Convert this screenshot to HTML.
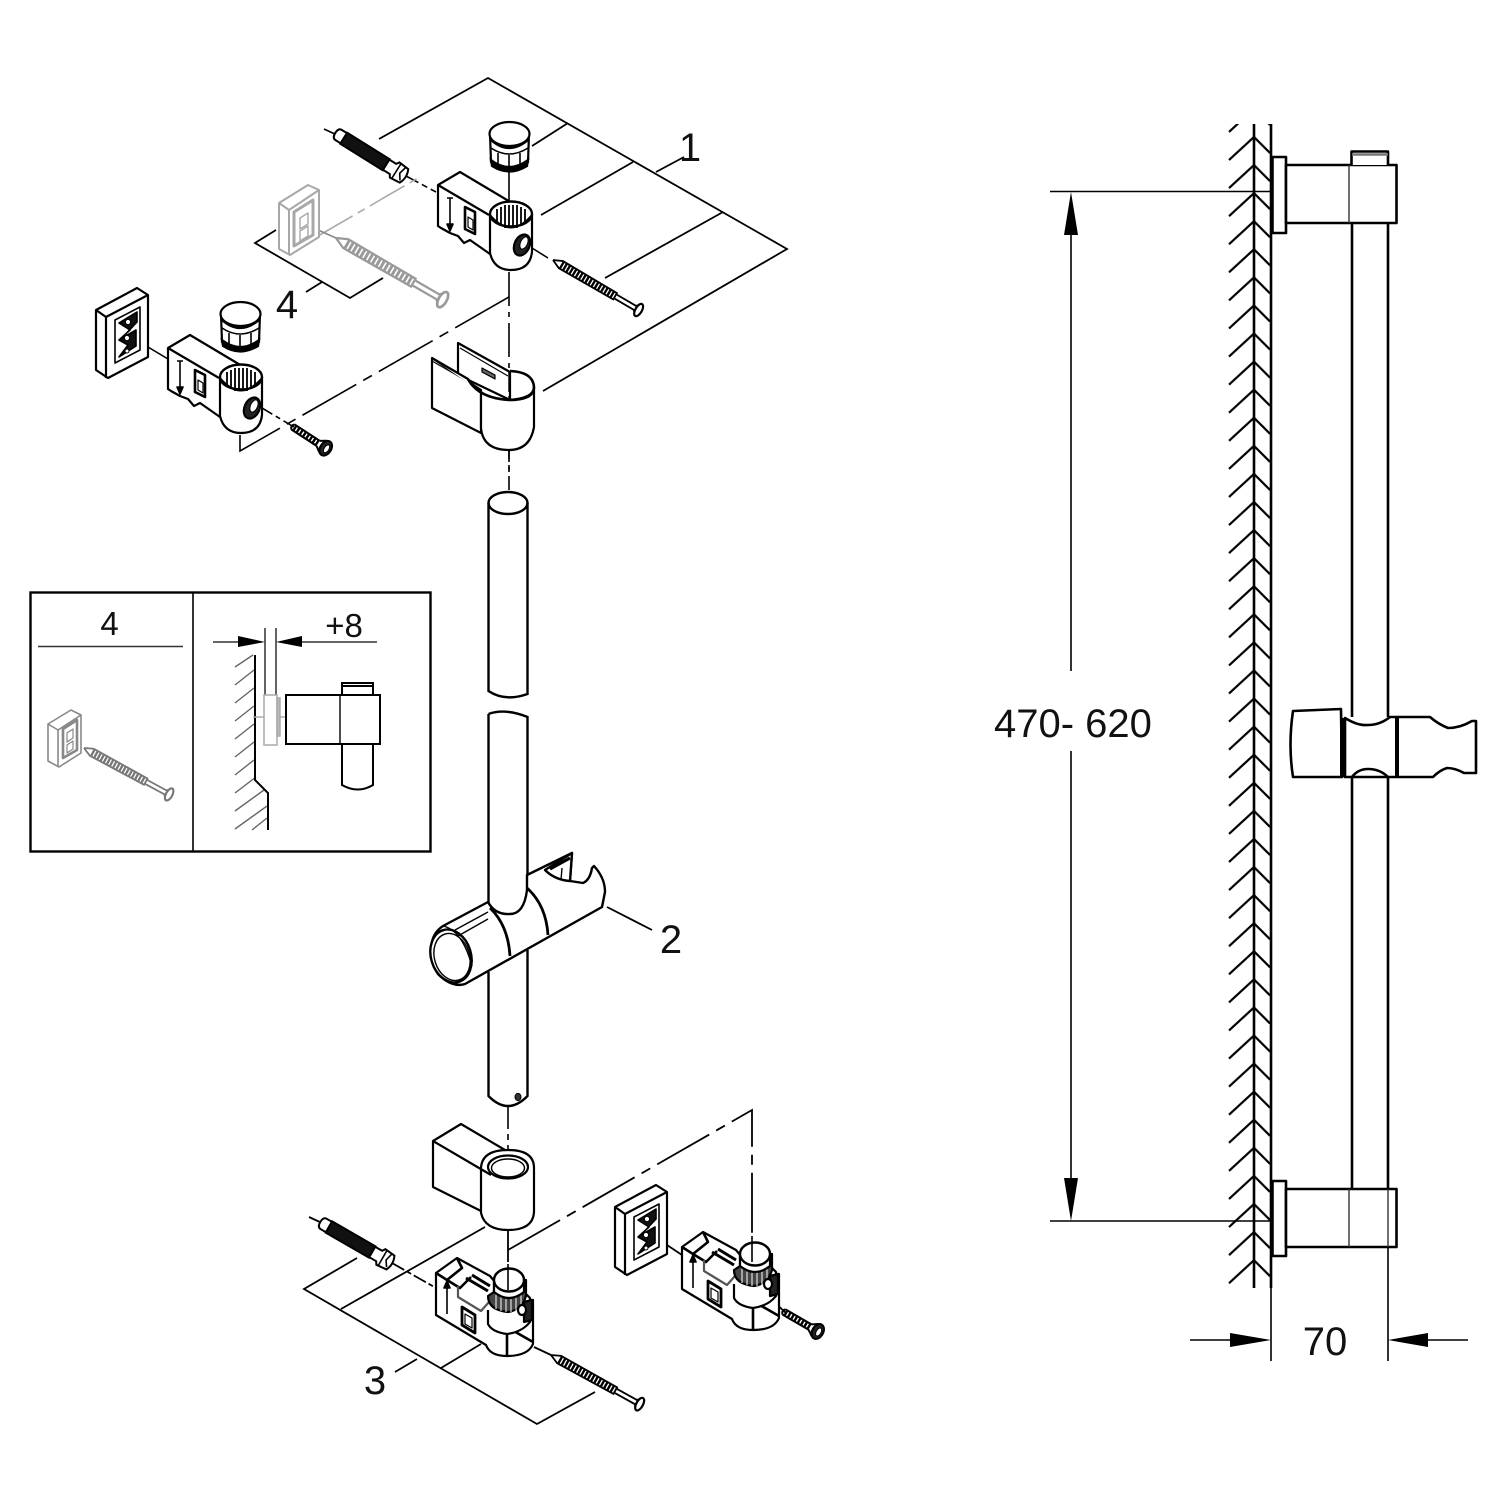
<!DOCTYPE html>
<html><head><meta charset="utf-8">
<style>
html,body{margin:0;padding:0;background:#fff}
svg{display:block}
text{font-family:"Liberation Sans",sans-serif;fill:#111}
</style></head>
<body>
<svg xmlns="http://www.w3.org/2000/svg" width="1500" height="1500" viewBox="0 0 1500 1500">
<defs>
<pattern id="hatch" patternUnits="userSpaceOnUse" x="1225" y="124" width="60" height="28.08">
 <path d="M4 36 L29 13 L45 29 M4 7.9 L29 -15.1 L45 0.9" fill="none" stroke="#000" stroke-width="2.2"/>
</pattern>
<g id="cap" fill="#fff" stroke="#000" stroke-width="2.2">
 <path d="M490 134 L491 162 Q509 178 528 162 L529 134 Z"/>
 <path d="M491 148 Q509 160 528 148" fill="none" stroke-width="1.6"/>
 <path d="M491 160 Q509 174 528 160 L527 166 Q509 177 492 166Z" fill="#000"/>
 <path d="M498 153V168M509 155V171M520 153V168" stroke-width="1.6"/>
 <ellipse cx="509.5" cy="134" rx="20" ry="12"/>
 <path d="M491 140 Q509 156 528 140" fill="none"/>
</g>
<g id="clip" stroke="#000" stroke-width="2.2" fill="#fff" stroke-linejoin="round">
 <path d="M438 185 L460 172 L512 203 L490 254 L470 240 L464 243 L458 236 L450 233 L441 228 L438 226Z"/>
 <path d="M438 185 L489 215" fill="none"/>
 <path d="M490 214 V253 Q494 270 511 270 Q530 270 532 252 V214Z"/>
 <ellipse cx="511" cy="214" rx="21" ry="12.5" stroke-width="2.4"/>
 <path d="M497 209V224M501 207V226M505 205V228M509 205V228M513 205V228M517 205V228M521 207V226M525 209V224" stroke-width="1.8"/>
 <path d="M490 215 Q511 240 532 215" fill="none" stroke-width="2"/>
 <ellipse cx="522" cy="245" rx="7.5" ry="11" transform="rotate(24 522 245)" fill="#222"/>
 <ellipse cx="524" cy="243" rx="3.5" ry="6.5" transform="rotate(24 524 243)" fill="#fff" stroke-width="1"/>
 <path d="M465 207 L475 212 V234 L465 229Z" stroke-width="2.6"/>
 <path d="M468 217 L473 220 V230 L468 227Z" stroke-width="1.2"/>
 <path d="M450 198 V229 M447 198 H453 M447 224 L450 231 L453 224Z" stroke-width="1.6" fill="#000"/>
</g>
<g id="clip2" stroke="#000" stroke-width="2.2" fill="#fff" stroke-linejoin="round">
 <path d="M436 1273 L457 1258 L490 1276 L510 1300 L533 1300 V1344 Q528 1356 507 1356 Q490 1356 486 1345 L436 1315Z"/>
 <path d="M436 1273 L447 1280 L462 1268 L457 1258" fill="none" stroke-width="2.6"/>
 <path d="M447 1280 L460 1288 L471 1277" fill="none" stroke-width="2.6"/>
 <path d="M458 1286 V1297 L481 1311 L489 1302" fill="none" stroke="#555" stroke-width="2.2"/>
 <path d="M466 1278 L488 1291 M472 1275 L490 1286" fill="none" stroke-width="3"/>
 <path d="M462 1307 L475 1315 V1333 L462 1325Z" stroke-width="2.8"/>
 <path d="M465 1314 L472 1318 V1328 L465 1324Z" stroke-width="1.2"/>
 <path d="M447 1283 V1314 M444 1288 L447 1281 L450 1288Z" stroke-width="1.6" fill="#000"/>
 <path d="M505 1326 L533 1342 M507 1330 V1356" fill="none" stroke-width="2.6"/>
 <path d="M488 1310 V1324 Q492 1332 507 1334 Q522 1332 530 1322 V1298 L522 1290" fill="#fff"/>
 <path d="M488 1296 Q488 1310 508 1312 Q522 1310 526 1296 V1280 H494 V1292Z" fill="#444"/>
 <path d="M496 1294V1309M501 1294V1311M506 1294V1312M511 1294V1312M516 1294V1311M521 1294V1308" stroke="#fff" stroke-width="1"/>
 <path d="M494 1280 V1292 Q509 1304 524 1292 V1280Z" fill="#fff"/>
 <ellipse cx="509" cy="1280" rx="15" ry="11.5" stroke-width="2.4"/>
 <path d="M524 1302 L532 1300 V1320 L524 1322Z" fill="#222"/>
 <ellipse cx="522" cy="1310" rx="4" ry="5"/>
</g>
<g id="plate" stroke="#000" stroke-width="2.2" fill="#fff" stroke-linejoin="round">
 <path d="M96 310 L137 288 L148 295 V357 L108 378 L96 370Z"/>
 <path d="M96 310 L106 317 L148 295 M106 317 V378" fill="none"/>
 <path d="M115 320 L140 307 V350 L115 363Z" stroke-width="1.6"/>
 <path d="M119 323 L137 312 V322 L122 338 L136 330 V346 L119 357 L128 345 L119 340 L130 330Z" fill="#111" stroke-width="1.6"/>
 <circle cx="128" cy="322" r="2.6" fill="#fff" stroke-width="1"/>
 <circle cx="127" cy="338" r="2.6" fill="#fff" stroke-width="1"/>
 <circle cx="127" cy="351" r="2" fill="#fff" stroke-width="1"/>
</g>
<g id="anchor" stroke="#000" fill="#fff" stroke-width="2">
 <path d="M8 -6 H2 Q-2 -6 -2 0 Q-2 6 2 6 H8Z"/>
 <rect x="8" y="-6.5" width="50" height="13" fill="#111"/>
 <path d="M58 -6 L66 -6 L68 -9 L79 -8 Q83 0 79 8 L68 9 L66 6 L58 6Z"/>
 <path d="M70 -8 V8 M76 -8 L74 0 L78 6" fill="none" stroke-width="1.6"/>
</g>
<g id="lscrew" fill="none" stroke="currentColor" stroke-width="2">
 <path d="M0 0 L10 -4.5 L80 -4 M0 0 L10 4.5 L80 4"/>
 <line x1="10" y1="0" x2="80" y2="0" stroke-width="8" stroke-dasharray="2.6 1.4"/>
 <path d="M80 -2.5 H104 L108 -6 M80 2.5 H104 L108 6"/>
 <ellipse cx="109" cy="0" rx="3.6" ry="7.5" fill="#fff" stroke-width="2.4"/>
</g>
<g id="sscrew" fill="none" stroke="#000" stroke-width="2">
 <path d="M0 -3 H30 M0 3 H30 M0 -3 Q-3 0 0 3"/>
 <line x1="1" y1="0" x2="30" y2="0" stroke-width="7" stroke-dasharray="2.4 1.4"/>
 <path d="M30 -3 L36 -7 M30 3 L36 7"/>
 <ellipse cx="39" cy="0" rx="5.5" ry="8" fill="#222"/>
 <ellipse cx="40" cy="0" rx="2.4" ry="4.4" fill="#fff" stroke-width="1"/>
</g>
</defs>

<g fill="none" stroke="#000" stroke-width="1.8">
 <path d="M379 139 L488 78 L787 249 L543 391"/>
 <path d="M532 146 L568 123 M541 215 L633 162 M605 278 L723 212 M656 172 L684 157"/>
 <path d="M276 230 L255 243 L350 298 L383 278 M306 292 L322 282"/>
</g>

<g fill="none" stroke="#000" stroke-width="1.6">
 <path d="M509 168 V205"/>
 <path d="M509 272 V490" stroke-dasharray="34 6 5 6"/>
 <path d="M509 297 L240 451 V433" stroke-dasharray="62 8 10 8"/>
 <path d="M324 129 L337 135 M406 176 L436 192" stroke-dasharray="14 4 6 4"/>
 <path d="M148 347 L168 359"/>
 <path d="M240 330 V350"/>
 <path d="M262 408 L294 427" stroke-dasharray="12 4 5 4"/>
 <path d="M532 248 L548 258"/>
</g>
<path d="M318 236 L418 178" fill="none" stroke="#aaa" stroke-width="1.6" stroke-dasharray="40 6 8 6"/>
<path d="M318 230 L336 238" stroke="#888" stroke-width="1.6"/>

<use href="#cap"/>
<use href="#cap" transform="translate(-269 180)"/>
<use href="#clip"/>
<use href="#clip" transform="translate(-270 163)"/>
<use href="#anchor" transform="translate(337 134) rotate(32)"/>
<g color="#000"><use href="#lscrew" transform="translate(553 260) rotate(30.3) scale(.91)"/></g>
<g color="#9a9a9a"><use href="#lscrew" transform="translate(336 238) rotate(30) scale(1.13)"/></g>
<use href="#sscrew" transform="translate(293 427) rotate(33)"/>
<use href="#plate"/>

<g fill="#fff" stroke="#a8a8a8" stroke-width="2" stroke-linejoin="round">
 <path d="M279 203 L308 185 L319 190 V237 L290 255 L279 249Z"/>
 <path d="M279 203 L289 210 L319 190 M289 210 V255" fill="none"/>
 <path d="M294 212 L313 200 V235 L294 246Z" fill="none" stroke-width="3"/>
 <path d="M300 218 L308 213 V224 L300 229Z M300 231 L308 226 V236 L300 241Z" fill="none" stroke-width="1.4"/>
</g>

<g fill="#fff" stroke="#000" stroke-width="2.2" stroke-linejoin="round">
 <path d="M458 343 L510 372 V400 L458 375Z"/>
 <path d="M460 348 L508 376" fill="none" stroke-width="1.2"/>
 <path d="M482 368 L495 375 V379 L482 372Z" fill="#666" stroke-width="1.2"/>
 <path d="M432 358 L481 390 V433 L432 408Z"/>
 <path d="M432 361 L474 385" fill="none" stroke-width="1.2"/>
 <path d="M432 358 L468 379 Q478 398 509 400 Q534 398 534 387 V427 Q530 450 509 450 Q483 450 481 428 V392"/>
 <path d="M510 371 Q533 372 534 387 Q534 400 509 400 Q478 398 468 379" fill="none" stroke-width="2.6"/>
 <path d="M509 372 V398" fill="none" stroke-width="1.4" stroke-dasharray="20 4 4 4"/>
</g>
<path d="M509 450 V472" stroke="#000" stroke-width="1.6" stroke-dasharray="12 5 5 5"/>

<text x="690" y="161" font-size="40" text-anchor="middle">1</text>
<text x="287" y="318" font-size="40" text-anchor="middle">4</text>

<g fill="none" stroke="#000" stroke-width="2.4">
 <ellipse cx="508" cy="503" rx="19.5" ry="11"/>
 <path d="M488.5 503 V691 Q505 702 527.5 694 V503"/>
 <path d="M488.5 714 Q505 708 527.5 717 V892 M488.5 714 V906"/>
 <path d="M488.5 972 V1096 Q508 1116 527.5 1096 V950"/>
 <ellipse cx="518" cy="1097" rx="3" ry="3.6" fill="#333" stroke-width="1"/>
</g>
<path d="M508 1107 V1155" stroke="#000" stroke-width="1.6" stroke-dasharray="22 5 6 5"/>

<g fill="#fff" stroke="#000" stroke-width="2.4" stroke-linejoin="round">
 <path d="M527 875 L572 853 L570 881 L583 883 Q590 880 592 868 L594 866 Q605 878 605 892 L602 907 L465 984 Q452 988 438 974 Q428 958 432 942 Q434 932 443 926 L488 902 Q495 915 510 914 Q524 914 527 890Z"/>
 <path d="M545 870 L572 853 L570 881 Q555 880 545 870Z"/>
 <path d="M550 869 L570 858" fill="none" stroke-width="3"/>
 <path d="M562 868 L561 880" fill="none" stroke-width="1.4"/>
 <path d="M527 888 Q546 905 548 935" fill="none" stroke-width="2.8"/>
 <path d="M490 908 Q508 925 510 956" fill="none" stroke-width="2.8"/>
 <ellipse cx="451" cy="956" rx="20" ry="27" transform="rotate(-17 451 956)"/>
 <ellipse cx="452" cy="957" rx="17.5" ry="24" transform="rotate(-17 452 957)" stroke-width="1.4"/>
 <path d="M443 926 Q462 930 472 966 M455 930 L488 912 M458 936 L488 919" fill="none" stroke-width="1.4"/>
</g>
<path d="M607 907 L652 930" stroke="#000" stroke-width="1.8"/>
<text x="671" y="953" font-size="40" text-anchor="middle">2</text>

<g fill="#fff" stroke="#000" stroke-width="2.2" stroke-linejoin="round">
 <path d="M433 1141 L461 1124 L505 1150 L485 1213 L433 1187Z"/>
 <path d="M481 1168 V1213 Q485 1230 508 1230 Q533 1230 534 1212 V1168 Q534 1150 508 1150 Q482 1150 481 1168Z"/>
 <ellipse cx="508" cy="1167" rx="20" ry="11.5"/>
 <ellipse cx="508" cy="1168" rx="16.5" ry="9" stroke-width="1.4"/>
 <path d="M433 1141 L491 1175" fill="none"/>
</g>

<g fill="none" stroke="#000" stroke-width="1.8">
 <path d="M357 1258 L304 1289 L537 1424 L595 1392"/>
 <path d="M341 1309 L485 1227 M441 1368 L481 1344 M395 1372 L417 1359"/>
 <path d="M508 1230 V1262"/>
 <path d="M508 1250 L752 1110 V1240" stroke-dasharray="60 8 10 8"/>
 <path d="M309 1217 L322 1223"/>
 <path d="M392 1263 L436 1288" stroke-dasharray="14 3 5 3"/>
 <path d="M534 1347 L551 1355"/>
 <path d="M667 1245 L682 1255"/>
 <path d="M772 1300 L786 1313"/>
</g>
<use href="#clip2"/>
<use href="#clip2" transform="translate(246 -26)"/>
<path d="M508 1264 V1290 M752 1236 V1262" stroke="#000" stroke-width="1.6"/>
<use href="#anchor" transform="translate(322 1223) rotate(30)"/>
<g color="#000"><use href="#lscrew" transform="translate(551 1355) rotate(29) scale(.93)"/></g>
<use href="#sscrew" transform="translate(784 1312) rotate(30)"/>
<use href="#plate" transform="translate(519 897)"/>
<text x="375" y="1394" font-size="40" text-anchor="middle">3</text>

<rect x="30.5" y="592.5" width="400" height="259" fill="none" stroke="#000" stroke-width="2.4"/>
<path d="M193 592 V852" stroke="#000" stroke-width="1.6"/>
<text x="109.5" y="635" font-size="33" text-anchor="middle">4</text>
<path d="M38 646.5 H183" stroke="#333" stroke-width="1.6"/>
<g fill="#fff" stroke="#888" stroke-width="1.6" stroke-linejoin="round">
 <path d="M48 724 L71 710 L81 715 V753 L59 767 L48 761Z"/>
 <path d="M48 724 L58 730 L81 715 M58 730 V767" fill="none"/>
 <path d="M63 729 L77 720 V750 L63 758Z" fill="none" stroke-width="2.6"/>
 <path d="M67 733 L73 729 V738 L67 742Z M67 745 L73 741 V749 L67 753Z" fill="none" stroke-width="1.2"/>
</g>
<g color="#777"><use href="#lscrew" transform="translate(84 748) rotate(28.6) scale(.89)"/></g>

<g fill="none" stroke="#666" stroke-width="1.4">
 <path d="M235 667 L253 655 M235 685 L254 670 M235 703 L254 688 M235 721 L254 706 M235 739 L254 724 M235 757 L254 742 M235 775 L254 760 M235 793 L256 777 M235 811 L264 790 M235 829 L267 806 M252 830 L267 818"/>
</g>
<path d="M255 655 V780 L268 793 V830" fill="none" stroke="#000" stroke-width="2"/>
<path d="M265 628 V695 M276 628 V695" stroke="#222" stroke-width="1.4"/>
<path d="M213 642 H240 M300 642 H377" stroke="#333" stroke-width="1.6"/>
<path d="M238 636 L265 642 L238 647Z M302 636 L276 642 L302 647Z" fill="#000"/>
<text x="344" y="637" font-size="33" text-anchor="middle">+8</text>
<g fill="#fff" stroke="#aaa" stroke-width="1.5">
 <rect x="264" y="695" width="13" height="50"/>
 <rect x="277" y="698" width="3" height="38" fill="#bbb"/>
 <path d="M253 717 H264 M280 717 H286" fill="none"/>
</g>
<g fill="none" stroke="#000" stroke-width="2">
 <rect x="286" y="695" width="94" height="49" fill="#fff"/>
 <path d="M340 695 V744" stroke-width="1.4"/>
 <path d="M342 695 V683 H373 V695 M342 686 H373"/>
 <path d="M342 744 V785 Q358 794 373 785 V744"/>
</g>

<rect x="1225" y="124" width="46" height="1164" fill="url(#hatch)"/>
<path d="M1254 124 V1288 M1271 124 V1288" stroke="#000" stroke-width="2.6" fill="none"/>
<path d="M1271 1288 V1361 M1388 1189 V1361" stroke="#000" stroke-width="1.6" fill="none"/>

<path d="M1352 223 V717 M1352 777 V1189 M1388 223 V717 M1388 777 V1189" stroke="#000" stroke-width="2.6" fill="none"/>

<g fill="#fff" stroke="#000" stroke-width="2.6" stroke-linejoin="round">
 <rect x="1272.5" y="157" width="13.5" height="76"/>
 <rect x="1286" y="165" width="110.5" height="58"/>
 <path d="M1351.5 165 V151.5 H1388 V165"/>
</g>
<path d="M1352 154.5 H1388" stroke="#777" stroke-width="2.5"/>
<path d="M1349 165 V223" stroke="#333" stroke-width="1.4"/>

<g fill="#fff" stroke="#000" stroke-width="2.6" stroke-linejoin="round">
 <rect x="1272.5" y="1181" width="13.5" height="75"/>
 <rect x="1286" y="1189" width="110.5" height="58"/>
</g>
<path d="M1349 1189 V1247 M1388 1189 V1247" stroke="#333" stroke-width="1.4"/>

<g fill="#fff" stroke="#000" stroke-width="2.6" stroke-linejoin="round">
 <path d="M1293 711 L1341 709 L1342 777 H1293 Q1288 745 1293 711Z"/>
 <path d="M1345 718 Q1358 726 1368 725 Q1380 725 1390 717 H1430 Q1438 724 1448 728 Q1460 728 1472 721 H1476 V773 H1464 Q1455 768 1447 768 Q1440 770 1433 777 H1345Z"/>
 <path d="M1352 777 Q1358 769 1368 769 Q1380 769 1388 777" fill="none"/>
</g>
<path d="M1342 718 V777 M1397 717 V777" stroke="#000" stroke-width="4" fill="none"/>

<g fill="none" stroke="#000" stroke-width="1.6">
 <path d="M1050 191.5 H1270 M1050 1221 H1270"/>
 <path d="M1071 232 V671 M1071 751 V1180"/>
 <path d="M1190 1340 H1232 M1426 1340 H1468"/>
</g>
<path d="M1071 192 L1078 235 H1064Z M1071 1221 L1078 1178 H1064Z" fill="#000"/>
<path d="M1271 1340 L1230 1333 V1347Z M1388 1340 L1428 1333 V1347Z" fill="#000"/>
<text x="994" y="737" font-size="40">470- 620</text>
<text x="1325" y="1355" font-size="40" text-anchor="middle">70</text>
</svg>
</body></html>
